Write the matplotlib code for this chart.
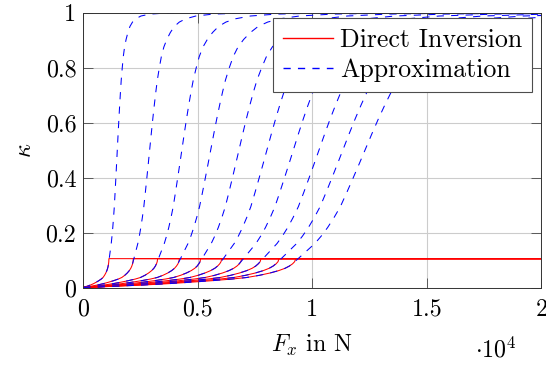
"""
Slip ratio kappa vs longitudinal force: direct inversion vs approximation
"""

import numpy as np
import matplotlib
matplotlib.use('Agg')
from matplotlib import pyplot as plt

matplotlib.rcParams['font.family'] = 'cmr10'
matplotlib.rcParams['mathtext.fontset'] = 'cm'
matplotlib.rcParams['axes.formatter.use_mathtext'] = True
matplotlib.rcParams['lines.scale_dashes'] = False

# peak force of each curve (N), where the direct inversion saturates
peakForce = [1120, 2185, 3245, 4195, 5125, 6045, 6915, 7760, 8545, 9275]
kappaMax = 0.105
forceMax = 20000

# normalised shape (Fx / peak force -> kappa), direct inversion
redU = [0, 0.1, 0.2, 0.3, 0.4, 0.5, 0.6, 0.7, 0.77, 0.83, 0.88, 0.92, 0.95,
        0.97, 0.985, 0.995, 1.0]
redKappa = [0, 0.003, 0.0063, 0.0098, 0.014, 0.019, 0.0245, 0.0308, 0.0365,
            0.0445, 0.053, 0.0615, 0.07, 0.078, 0.086, 0.094, 0.105]

# normalised shape, approximation
blueU = [0, 0.1, 0.2, 0.3, 0.4, 0.5, 0.6, 0.7, 0.77, 0.83, 0.88, 0.92, 0.95,
         0.97, 0.985, 1.0, 1.03, 1.06, 1.09, 1.12, 1.15, 1.18, 1.21, 1.24,
         1.27, 1.30, 1.33, 1.36, 1.39, 1.42, 1.45, 1.48, 1.52, 1.56, 1.61,
         1.67, 1.74, 1.82, 1.92, 2.05, 2.25, 2.6, 3.2, 4.5, 20]
blueKappa = [0, 0.003, 0.0063, 0.0098, 0.014, 0.019, 0.0245, 0.0308, 0.0365,
             0.0445, 0.053, 0.0615, 0.07, 0.078, 0.087, 0.097, 0.118, 0.139,
             0.160, 0.187, 0.218, 0.254, 0.294, 0.345, 0.398, 0.452, 0.507,
             0.562, 0.615, 0.665, 0.712, 0.755, 0.800, 0.840, 0.875, 0.903,
             0.928, 0.950, 0.966, 0.978, 0.988, 0.995, 0.9985, 1.0, 1.0]

fontSize = 17.3
legendFontSize = 18.6
lineWidth = 0.75
redColor = '#ff0000'
blueColor = '#0000ff'

fig = plt.figure(figsize=(5.46, 3.65), dpi=100)
ax0 = fig.add_axes([0.1525, 0.2123, 0.8390, 0.7529])

for ind, thisPeak in enumerate(peakForce):
    fxRed = list(np.array(redU) * thisPeak) + [forceMax]
    kRed = redKappa + [kappaMax]
    ax0.plot(fxRed, kRed, '-', color=redColor, lw=lineWidth,
             label='Direct Inversion' if ind == 0 else None)
    fxBlue = np.array(blueU) * thisPeak
    ax0.plot(fxBlue, blueKappa, color=blueColor, lw=lineWidth,
             ls=(0, (5.2, 5.2)), label='Approximation' if ind == 0 else None)

ax0.set_xlim([0, forceMax])
ax0.set_ylim([0, 1])
ax0.set_xticks([0, 5000, 10000, 15000, 20000])
ax0.set_xticklabels(['0', '0.5', '1', '1.5', '2'])
ax0.set_yticks([0, 0.2, 0.4, 0.6, 0.8, 1])
ax0.set_yticklabels(['0', '0.2', '0.4', '0.6', '0.8', '1'])
ax0.grid(True, color='#cccccc', lw=0.8)
ax0.set_axisbelow(True)
ax0.tick_params(direction='in', length=7, width=0.7, color='0.35',
                top=True, right=True, labelsize=fontSize)
ax0.tick_params(axis='x', pad=8)
ax0.tick_params(axis='y', pad=5)
for spine in ax0.spines.values():
    spine.set_linewidth(0.7)
    spine.set_color('0.2')

ax0.set_xlabel(r'$F_x$ in N', fontsize=fontSize, labelpad=9)
ax0.set_ylabel(r'$\kappa$', fontsize=fontSize, labelpad=7)
fig.text(0.908, 0.042, r'$\cdot 10^4$', fontsize=fontSize, ha='center', va='center')

leg = ax0.legend(loc='upper right', bbox_to_anchor=(0.98, 0.98), fontsize=legendFontSize,
                 fancybox=False, framealpha=1, edgecolor='0.3',
                 handlelength=1.95, handletextpad=0.26, borderpad=0.38,
                 labelspacing=0.25, borderaxespad=0)
leg.get_frame().set_linewidth(0.8)
for legLine, legColor in zip(leg.get_lines(), [redColor, blueColor]):
    legLine.set_color(legColor)
    legLine.set_linewidth(1.0)

fig.savefig('out.png', dpi=100)
